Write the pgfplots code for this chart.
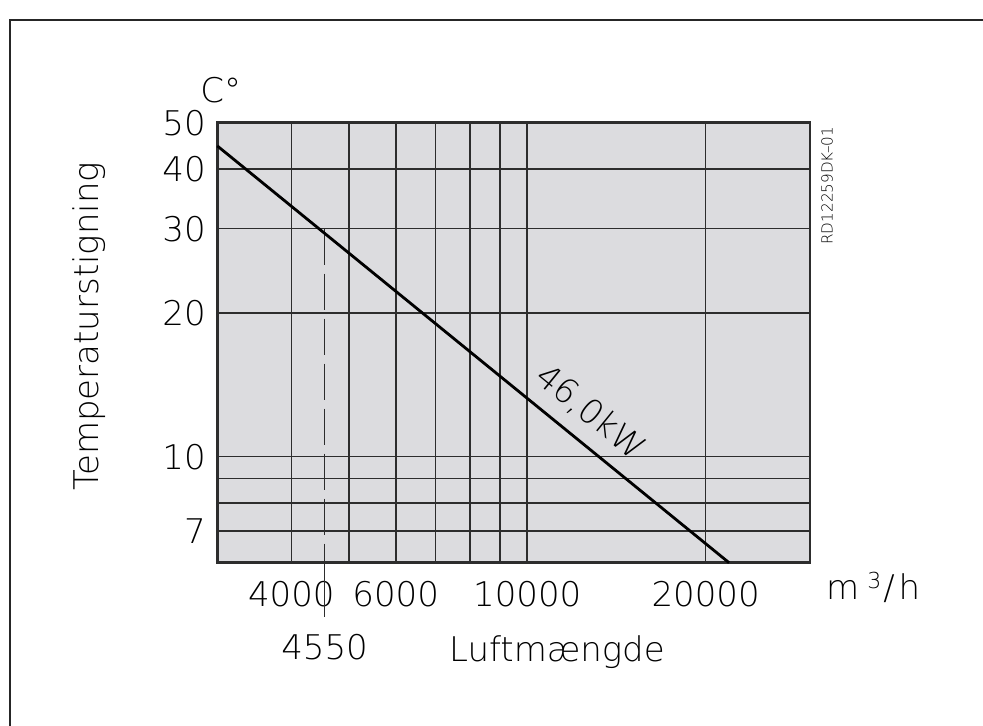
\documentclass[border=0pt]{standalone}
\usepackage{pgfplots}
\pgfplotsset{compat=1.18}
\usepackage{fontspec}
\setmainfont{DejaVu Sans ExtraLight}
\definecolor{plotbg}{RGB}{220,220,223}
\definecolor{gridc}{RGB}{45,45,45}
\newcommand{\lblfont}{\fontsize{17}{20}\selectfont}
\begin{document}
\begin{tikzpicture}[x=1pt,y=1pt]
\useasboundingbox (0,0) rectangle (491.5,363);
\draw[line width=1pt, black!85] (4.75,0) -- (4.75,353) -- (491.5,353);
\begin{axis}[
  at={(108.65pt,81.65pt)}, anchor=south west,
  scale only axis, width=296.35pt, height=220pt,
  xmode=log, ymode=log,
  xmin=3000, xmax=30000, ymin=6, ymax=50,
  axis background/.style={fill=plotbg},
  axis line style={line width=1.2pt, gridc},
  xtick={4000,6000,10000,20000},
  xticklabels={4000,6000,10000,20000},
  minor xtick={5000,7000,8000,9000},
  ytick={7,10,20,30,40,50},
  yticklabels={7,10,20,30,40,50},
  minor ytick={8,9},
  grid=both,
  major grid style={line width=0.8pt, gridc},
  minor grid style={line width=0.8pt, gridc},
  major tick length=0pt, minor tick length=0pt,
  /pgf/number format/assume math mode=true,
  tick label style={font=\lblfont, inner sep=0pt},
  xticklabel style={anchor=base, yshift=-22pt},
  yticklabel style={anchor=east, xshift=-5.6pt},
  extra x ticks={4550},
  extra x tick labels={4550},
  extra x tick style={grid=none, xticklabel style={yshift=-26.65pt}},
  xlabel={Luftmængde},
  xlabel style={font=\lblfont, at={(axis description cs:0.573,0)}, anchor=base, yshift=-49.5pt, inner sep=0pt},
  ylabel={Temperaturstigning},
  ylabel style={font=\lblfont, at={(axis description cs:-0.2013,0.537)}, anchor=base, inner sep=0pt},
  clip=false,
]
\addplot[gridc, line width=0.65pt, dash pattern=on 18pt off 4.5pt] coordinates {(4550,30) (4550,6)};
\addplot[gridc, line width=0.65pt] coordinates {(4550,6) (4550,4.62)};
\addplot[black, line width=1.4pt] coordinates {(3000,44.7) (21900,6)}
  node[pos=0.693, sloped, anchor=center, yshift=14.5pt, font=\lblfont] {46,0kW};
\node[anchor=base west, font=\lblfont, inner sep=0pt] at (axis description cs:-0.0292,1.0448) {C°};
\node[anchor=base west, font=\lblfont, inner sep=0pt] at (axis description cs:1.0265,-0.0832)
  {m\kern4pt\raisebox{5.2pt}{\fontsize{11}{12}\selectfont 3}\kern1pt/\kern2pt h};
\end{axis}
\node[rotate=90, anchor=base west, inner sep=0pt, font=\fontsize{7.6}{9}\selectfont] at (416.35,240.5) {RD12259DK–01};
\end{tikzpicture}
\end{document}
